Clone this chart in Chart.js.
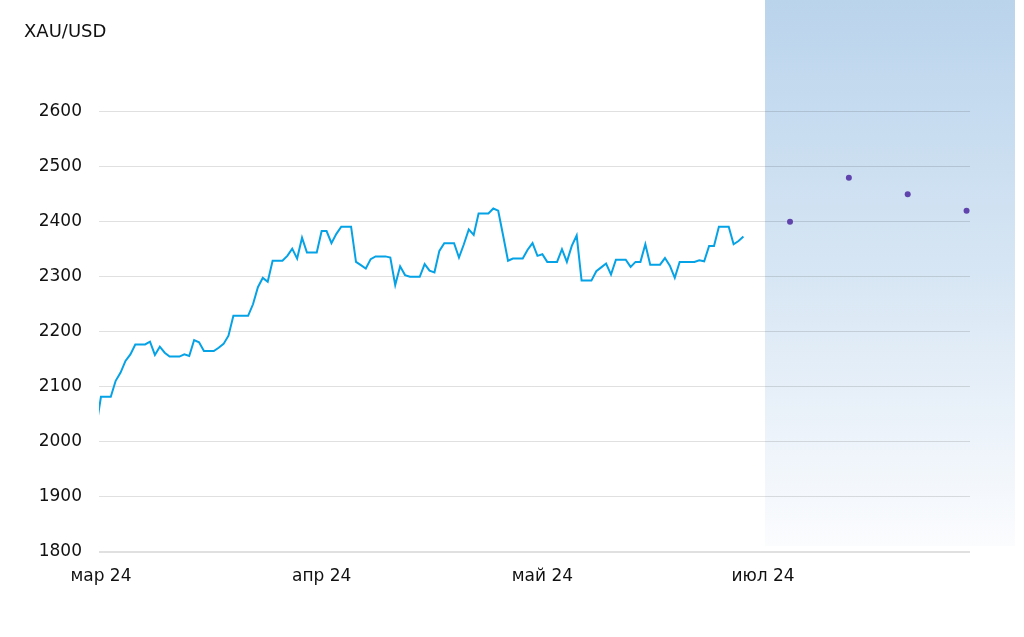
<!DOCTYPE html>
<html><head><meta charset="utf-8">
<script src="https://cdn.jsdelivr.net/npm/chart.js@4"></script>
<style>html,body{margin:0;padding:0;background:#fff}#wrap{width:1024px;height:637px}</style>
</head><body><div id="wrap"><canvas id="c" width="1024" height="637"></canvas></div>
<script>
const seriesName = 'XAU/USD';
// daily closes, index 0 = 29 Feb 2024
const closeValues = [
  2025, 2082, 2082, 2082, 2111, 2126, 2147,
  2159, 2177, 2177, 2177, 2182, 2158, 2173,
  2162, 2155, 2155, 2155, 2159, 2156, 2185,
  2181, 2165, 2165, 2165, 2171, 2178, 2193,
  2229, 2229, 2229, 2229, 2250, 2281, 2298,
  2291, 2329, 2329, 2329, 2338, 2351, 2333,
  2371, 2344, 2344, 2344, 2383, 2383, 2361,
  2378, 2391, 2391, 2391, 2327, 2321, 2315,
  2332, 2337, 2337, 2337, 2335, 2285, 2319,
  2303, 2300, 2300, 2300, 2323, 2311, 2308,
  2347, 2361, 2361, 2361, 2335, 2359, 2386,
  2376, 2415, 2415, 2415, 2424, 2420, 2375,
  2329, 2333, 2333, 2333, 2349, 2361, 2338,
  2341, 2327, 2327, 2327, 2350, 2327, 2356,
  2375, 2293, 2293, 2293, 2310, 2317, 2324,
  2304, 2331, 2331, 2331, 2318, 2327, 2327,
  2359, 2322, 2322, 2322, 2334, 2320, 2298,
  2327, 2327, 2327, 2327, 2330, 2328, 2356,
  2356, 2391, 2391, 2391, 2359, 2365, 2373
];
const tickPositions = [1, 46, 91, 136];
const tickLabels = ['мар 24', 'апр 24', 'май 24', 'июл 24'];
const forecastX = [141.5, 153.5, 165.5, 177.5];
const forecastValues = [2400, 2480, 2450, 2420];
const forecastStart = 136.4;
const xRange = [0.6, 178.2];
const yMin = 1800, yMax = 2600, yStep = 100;

const FONT = 'DejaVu Sans';

const shadePlugin = {
  id: 'shade',
  beforeDraw(chart) {
    const {ctx, chartArea, scales} = chart;
    const left = scales.x.getPixelForValue(forecastStart);
    const right = chart.width - 9;
    const bottom = chartArea.bottom - 6;
    const g = ctx.createLinearGradient(0, 0, 0, bottom);
    g.addColorStop(0, 'rgb(186,212,236)');
    g.addColorStop(0.5, 'rgb(215,230,244)');
    g.addColorStop(1, 'rgb(251,252,254)');
    ctx.save();
    ctx.fillStyle = g;
    ctx.fillRect(left, 0, right - left, bottom);
    ctx.restore();
  }
};

new Chart(document.getElementById('c'), {
  type: 'line',
  data: {
    datasets: [
      {
        label: seriesName,
        data: closeValues.map((v, i) => ({x: i, y: v})),
        borderColor: '#05a2e6',
        borderWidth: 2,
        pointRadius: 0,
        tension: 0,
        clip: 0
      },
      {
        label: 'forecast',
        data: forecastX.map((x, i) => ({x: x, y: forecastValues[i]})),
        showLine: false,
        pointRadius: 3,
        pointBackgroundColor: '#6043ac',
        pointBorderColor: '#6043ac',
        pointBorderWidth: 0,
        clip: false
      }
    ]
  },
  options: {
    responsive: false,
    animation: false,
    devicePixelRatio: 1,
    layout: {padding: {left: 24, right: 54, top: 0, bottom: 0}},
    plugins: {
      legend: {display: false},
      tooltip: {enabled: false},
      title: {
        display: true,
        text: seriesName,
        align: 'start',
        color: '#111',
        font: {family: FONT, size: 18, weight: 'normal'},
        padding: {top: 22, bottom: 68}
      }
    },
    scales: {
      x: {
        type: 'linear',
        min: xRange[0],
        max: xRange[1],
        afterBuildTicks: s => { s.ticks = tickPositions.map(v => ({value: v})); },
        afterFit: s => { s.height = 85; },
        grid: {display: false},
        border: {display: false},
        ticks: {
          autoSkip: false,
          maxRotation: 0,
          padding: 6,
          color: '#111',
          font: {family: FONT, size: 17},
          callback: v => { const k = tickPositions.indexOf(v); return k >= 0 ? tickLabels[k] : ''; }
        }
      },
      y: {
        min: yMin,
        max: yMax,
        afterFit: s => { s.width = 75; },
        border: {display: false},
        grid: {
          color: 'rgba(0,0,0,0.12)',
          lineWidth: ctx => ctx.tick && ctx.tick.value === yMin ? 2 : 1,
          drawTicks: false
        },
        ticks: {
          stepSize: yStep,
          padding: 17,
          color: '#111',
          font: {family: FONT, size: 17},
          callback: v => String(v)
        }
      }
    }
  },
  plugins: [shadePlugin]
});
</script>
</body></html>
